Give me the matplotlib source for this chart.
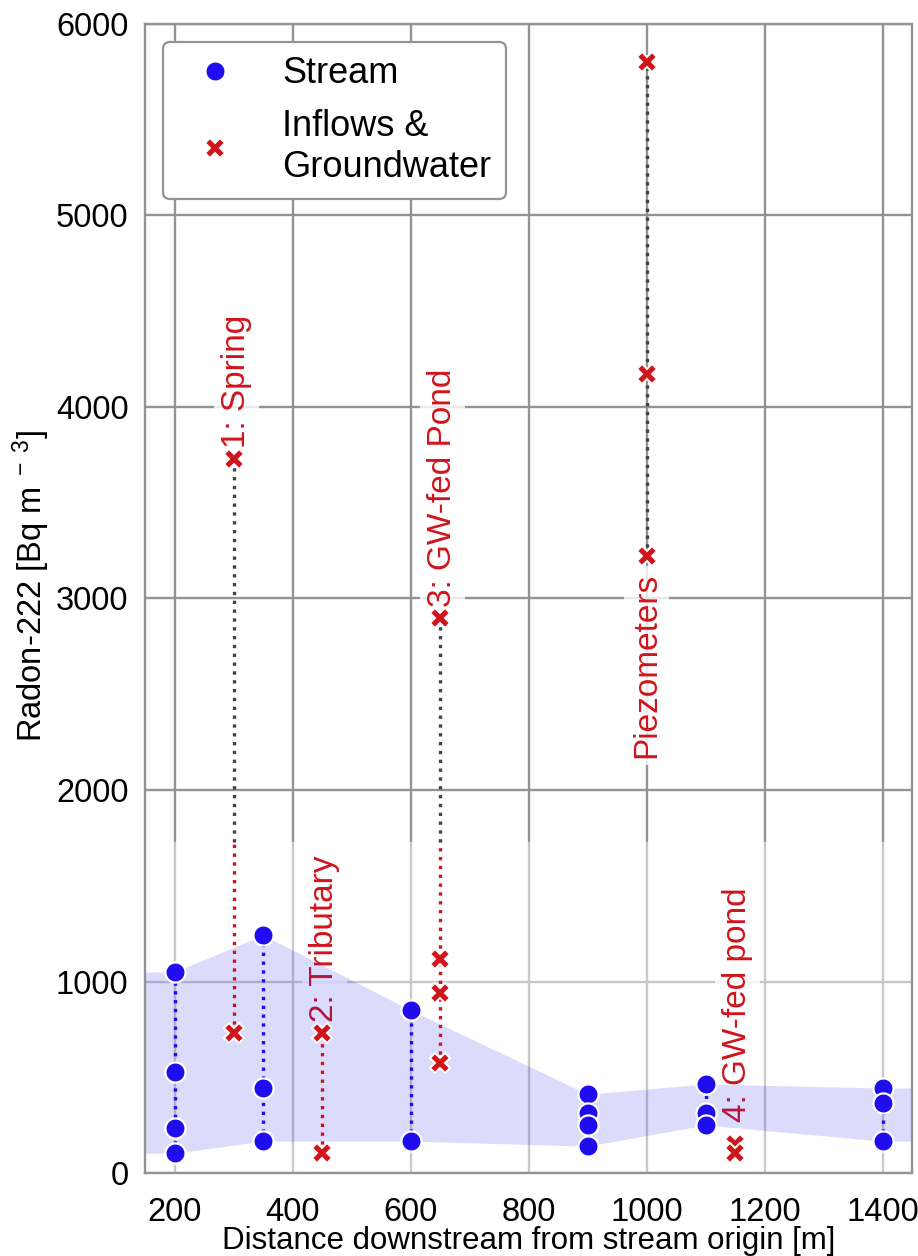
import numpy as np
import matplotlib
matplotlib.use("Agg")
import matplotlib.pyplot as plt
from matplotlib.patches import Rectangle
import matplotlib.transforms as mtransforms

plt.rcParams['font.family'] = ['Liberation Sans', 'DejaVu Sans']
plt.rcParams['mathtext.fontset'] = 'custom'
plt.rcParams['mathtext.rm'] = 'Liberation Sans'
plt.rcParams['mathtext.it'] = 'Liberation Sans:italic'

# Stream samples: distance [m] and radon-222 [Bq m-3]
stream_x = [200, 200, 200, 200, 350, 350, 350, 600, 600,
            900, 900, 900, 900, 1100, 1100, 1100, 1400, 1400, 1400]
stream_rn = [1050, 527, 235, 104, 1243, 444, 167, 851, 167,
             412, 313, 250, 141, 465, 313, 251, 444, 365, 167]

# Inflows and groundwater samples
inflow_x = [300, 300, 450, 450, 650, 650, 650, 650, 1000, 1000, 1000, 1150, 1150]
inflow_rn = [3730, 730, 730, 104, 2900, 1120, 940, 574, 5800, 4170, 3220, 150, 104]

# Site labels
site_x = [300, 450, 650, 1000, 1150]
site_labels = ["1: Spring", "2: Tributary", "3: GW-fed Pond", "Piezometers", "4: GW-fed pond"]
site_above = [True, True, True, False, True]
site_gap = [8, 8, 8, 12, 16]

blue = '#1f0df0'
red = '#d0141c'
grid_col = '#939393'
cut = 1728  # upper edge of the lower panel wash

fig = plt.figure(figsize=(9.18, 12.56), dpi=100)
ax = fig.add_axes([0.158, 0.066, 0.8355, 0.915])
ax.set_xlim(150, 1450)
ax.set_ylim(0, 6000)
ax.set_axisbelow(True)
ax.grid(True, color=grid_col, lw=1.7)
for s in ax.spines.values():
    s.set_color(grid_col)
    s.set_linewidth(1.7)

# white wash over the low-concentration part
trans = mtransforms.blended_transform_factory(ax.transAxes, ax.transData)
ax.add_patch(Rectangle((-0.016, -60), 1.1, cut + 60, transform=trans,
                       facecolor='white', alpha=0.5, edgecolor='none',
                       zorder=1.2, clip_on=False))

sx = np.array(stream_x)
sr = np.array(stream_rn)
ix = np.array(inflow_x)
ir = np.array(inflow_rn)

# site labels sit under the envelope and connectors
for x, t, up, g in zip(site_x, site_labels, site_above, site_gap):
    v = ir[ix == x]
    box = dict(facecolor='white', edgecolor='none', alpha=0.8, pad=5)
    if up:
        ax.annotate(t, (x, v.max()), xytext=(2, g), textcoords='offset points',
                    rotation=90, ha='center', va='bottom', color=red, fontsize=24,
                    bbox=box, zorder=1.5)
    else:
        ax.annotate(t, (x, v.min()), xytext=(0, -g), textcoords='offset points',
                    rotation=90, ha='center', va='top', color=red, fontsize=24,
                    bbox=box, zorder=1.5)

# envelope of stream concentrations
ux = np.unique(sx)
lo = np.array([sr[sx == x].min() for x in ux])
hi = np.array([sr[sx == x].max() for x in ux])
xl = ax.get_xlim()
bx = np.concatenate([[xl[0]], ux, [xl[1]]])
blo = np.concatenate([[lo[0]], lo, [lo[-1]]])
bhi = np.concatenate([[hi[0]], hi, [hi[-1]]])
ax.fill_between(bx, blo, bhi, color='#2020f0', alpha=0.16, lw=0, zorder=2)

# dotted connectors
for x in ux:
    v = sr[sx == x]
    ax.plot([x, x], [v.min(), v.max()], ls=':', color=blue, lw=2.4, zorder=3)
for x in np.unique(ix):
    v = ir[ix == x]
    a, b = v.min(), v.max()
    if a < cut:
        ax.plot([x, x], [a, min(b, cut)], ls=':', color=red, lw=2.4, zorder=3)
    if b > cut:
        ax.plot([x, x], [max(a, cut), b], ls=':', color='#444444', lw=2.4, zorder=3)

ax.plot(sx, sr, 'o', color=blue, ms=14.5, mec='white', mew=1.6, ls='none',
        zorder=4, label='Stream')
ax.plot(ix, ir, 'X', color=red, ms=14, mec='white', mew=1.4, ls='none',
        zorder=4, label='Inflows &\nGroundwater')

ax.set_xticks([200, 400, 600, 800, 1000, 1200, 1400])
ax.set_yticks([0, 1000, 2000, 3000, 4000, 5000, 6000])
ax.tick_params(length=0, labelsize=23.5)
ax.tick_params(axis='x', pad=17)
ax.tick_params(axis='y', pad=12)
ax.set_xlabel('Distance downstream from stream origin [m]', fontsize=22.5)
ax.xaxis.label.set_va('baseline')
ax.xaxis.set_label_coords(0.5, -0.0662)
ax.set_ylabel(r'Radon-222 [Bq m$^{\ -\ 3}$]', fontsize=23.5)
ax.yaxis.set_label_coords(-0.121, 0.511)

leg = ax.legend(loc='upper left', fontsize=26, numpoints=1, handlelength=2.1,
                handletextpad=0.8, borderpad=0.4, labelspacing=0.5,
                borderaxespad=0.5, framealpha=1, edgecolor=grid_col, fancybox=True)
leg.get_frame().set_linewidth(1.6)
leg.set_zorder(6)

plt.savefig('out.png', dpi=100)
